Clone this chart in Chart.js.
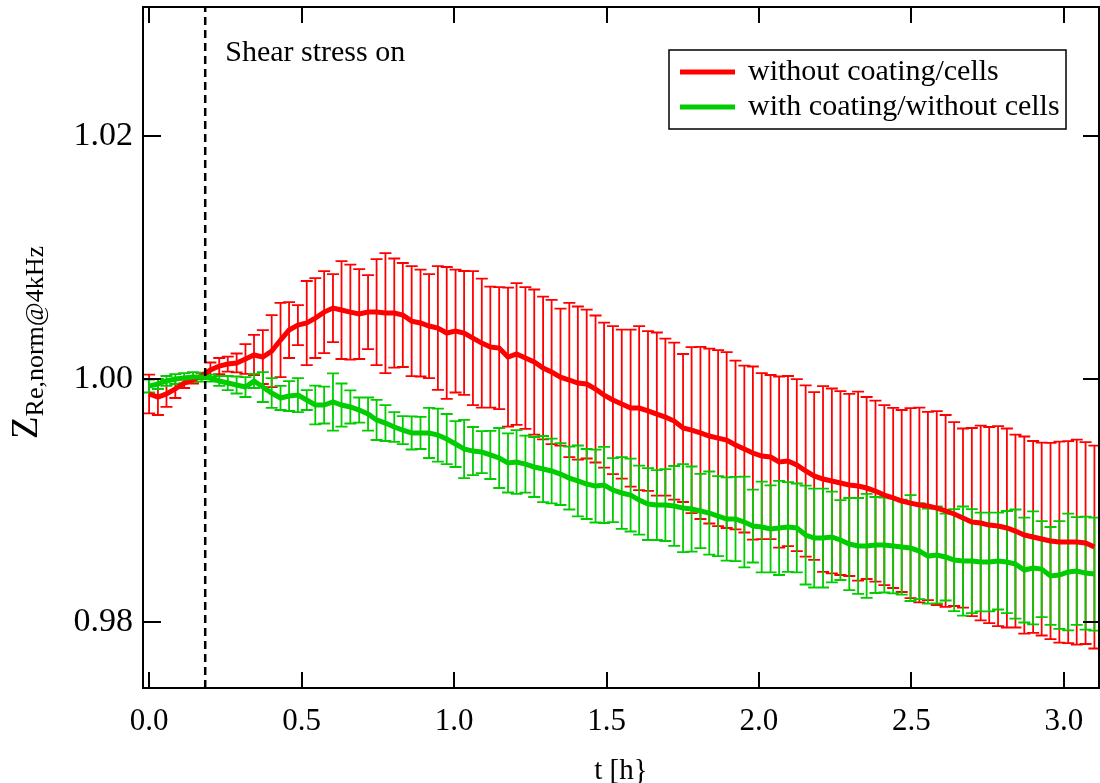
<!DOCTYPE html>
<html>
<head>
<meta charset="utf-8">
<script src="https://cdn.jsdelivr.net/npm/chart.js@4.4.0/dist/chart.umd.min.js"></script>
<style>
  html, body { margin: 0; padding: 0; background: #fff; }
  #wrap { width: 1100px; height: 783px; }
</style>
</head>
<body>
<div id="wrap"><canvas id="chart" width="1100" height="783"></canvas></div>
<script>
// time axis [h]
const tHours = [
  0.000, 0.029, 0.057, 0.086, 0.115, 0.144, 0.172, 0.201, 0.230, 0.258,
  0.287, 0.316, 0.344, 0.373, 0.402, 0.431, 0.459, 0.488, 0.517, 0.545,
  0.574, 0.603, 0.631, 0.660, 0.689, 0.718, 0.746, 0.775, 0.804, 0.832,
  0.861, 0.890, 0.918, 0.947, 0.976, 1.005, 1.033, 1.062, 1.091, 1.119,
  1.148, 1.177, 1.205, 1.234, 1.263, 1.292, 1.320, 1.349, 1.378, 1.406,
  1.435, 1.464, 1.492, 1.521, 1.550, 1.579, 1.607, 1.636, 1.665, 1.693,
  1.722, 1.751, 1.779, 1.808, 1.837, 1.866, 1.894, 1.923, 1.952, 1.980,
  2.009, 2.038, 2.066, 2.095, 2.124, 2.153, 2.181, 2.210, 2.239, 2.267,
  2.296, 2.325, 2.353, 2.382, 2.411, 2.440, 2.468, 2.497, 2.526, 2.554,
  2.583, 2.612, 2.640, 2.669, 2.698, 2.727, 2.755, 2.784, 2.813, 2.841,
  2.870, 2.899, 2.927, 2.956, 2.985, 3.014, 3.042, 3.071, 3.100
];

// without coating/cells
const redMean = [
  0.99877, 0.99852, 0.99877, 0.99918, 0.99967, 0.99992, 1.00025, 1.00074, 1.00107, 1.00123,
  1.00132, 1.00165, 1.00198, 1.00181, 1.00230, 1.00321, 1.00403, 1.00444, 1.00461, 1.00502,
  1.00551, 1.00584, 1.00568, 1.00551, 1.00535, 1.00551, 1.00551, 1.00543, 1.00543, 1.00527,
  1.00477, 1.00461, 1.00436, 1.00420, 1.00379, 1.00395, 1.00379, 1.00337, 1.00296, 1.00263,
  1.00255, 1.00181, 1.00206, 1.00173, 1.00140, 1.00091, 1.00058, 1.00016, 0.99992, 0.99967,
  0.99959, 0.99918, 0.99868, 0.99827, 0.99794, 0.99761, 0.99761, 0.99737, 0.99712, 0.99687,
  0.99654, 0.99597, 0.99580, 0.99556, 0.99531, 0.99514, 0.99498, 0.99457, 0.99424, 0.99391,
  0.99366, 0.99358, 0.99317, 0.99325, 0.99292, 0.99243, 0.99202, 0.99177, 0.99161, 0.99144,
  0.99128, 0.99119, 0.99103, 0.99078, 0.99045, 0.99021, 0.98996, 0.98979, 0.98963, 0.98955,
  0.98938, 0.98914, 0.98889, 0.98856, 0.98823, 0.98815, 0.98798, 0.98790, 0.98774, 0.98749,
  0.98716, 0.98700, 0.98683, 0.98667, 0.98658, 0.98658, 0.98658, 0.98650, 0.98617
];
const redErr = [
  0.00160, 0.00148, 0.00107, 0.00074, 0.00041, 0.00029, 0.00025, 0.00062, 0.00066, 0.00062,
  0.00078, 0.00123, 0.00165, 0.00222, 0.00296, 0.00305, 0.00230, 0.00165, 0.00346, 0.00329,
  0.00337, 0.00280, 0.00403, 0.00391, 0.00370, 0.00305, 0.00436, 0.00494, 0.00449, 0.00428,
  0.00453, 0.00440, 0.00428, 0.00510, 0.00543, 0.00506, 0.00510, 0.00551, 0.00531, 0.00498,
  0.00502, 0.00572, 0.00584, 0.00584, 0.00597, 0.00588, 0.00593, 0.00564, 0.00634, 0.00630,
  0.00613, 0.00605, 0.00597, 0.00609, 0.00613, 0.00646, 0.00675, 0.00658, 0.00671, 0.00646,
  0.00646, 0.00609, 0.00683, 0.00708, 0.00720, 0.00724, 0.00724, 0.00695, 0.00687, 0.00712,
  0.00683, 0.00675, 0.00704, 0.00700, 0.00708, 0.00704, 0.00691, 0.00765, 0.00761, 0.00757,
  0.00749, 0.00778, 0.00749, 0.00745, 0.00741, 0.00741, 0.00749, 0.00782, 0.00802, 0.00774,
  0.00798, 0.00790, 0.00757, 0.00737, 0.00774, 0.00802, 0.00807, 0.00823, 0.00819, 0.00794,
  0.00811, 0.00790, 0.00794, 0.00807, 0.00827, 0.00831, 0.00844, 0.00831, 0.00835
];

// with coating/without cells
const greenMean = [
  0.99942, 0.99959, 0.99984, 1.00000, 1.00008, 1.00016, 1.00016, 1.00008, 0.99984, 0.99967,
  0.99951, 0.99934, 0.99984, 0.99934, 0.99885, 0.99844, 0.99860, 0.99868, 0.99827, 0.99786,
  0.99786, 0.99811, 0.99786, 0.99770, 0.99745, 0.99712, 0.99663, 0.99638, 0.99605, 0.99580,
  0.99556, 0.99556, 0.99556, 0.99539, 0.99506, 0.99465, 0.99424, 0.99407, 0.99399, 0.99375,
  0.99350, 0.99309, 0.99317, 0.99300, 0.99276, 0.99259, 0.99243, 0.99218, 0.99185, 0.99161,
  0.99136, 0.99119, 0.99128, 0.99086, 0.99062, 0.99045, 0.99004, 0.98971, 0.98963, 0.98963,
  0.98955, 0.98938, 0.98930, 0.98914, 0.98897, 0.98872, 0.98848, 0.98848, 0.98823, 0.98790,
  0.98782, 0.98766, 0.98774, 0.98782, 0.98774, 0.98716, 0.98691, 0.98691, 0.98700, 0.98675,
  0.98642, 0.98626, 0.98626, 0.98634, 0.98634, 0.98626, 0.98617, 0.98609, 0.98584, 0.98543,
  0.98552, 0.98535, 0.98510, 0.98502, 0.98502, 0.98494, 0.98494, 0.98502, 0.98494, 0.98477,
  0.98428, 0.98445, 0.98436, 0.98379, 0.98387, 0.98412, 0.98420, 0.98403, 0.98395
];
const greenErr = [
  0.00053, 0.00041, 0.00041, 0.00041, 0.00041, 0.00041, 0.00037, 0.00029, 0.00041, 0.00058,
  0.00070, 0.00082, 0.00058, 0.00123, 0.00123, 0.00099, 0.00123, 0.00140, 0.00082, 0.00160,
  0.00152, 0.00235, 0.00177, 0.00136, 0.00103, 0.00136, 0.00165, 0.00148, 0.00123, 0.00115,
  0.00136, 0.00132, 0.00206, 0.00218, 0.00206, 0.00189, 0.00239, 0.00198, 0.00173, 0.00198,
  0.00247, 0.00243, 0.00263, 0.00235, 0.00247, 0.00272, 0.00267, 0.00255, 0.00259, 0.00292,
  0.00288, 0.00300, 0.00313, 0.00263, 0.00296, 0.00300, 0.00284, 0.00296, 0.00288, 0.00296,
  0.00329, 0.00362, 0.00350, 0.00305, 0.00342, 0.00329, 0.00342, 0.00346, 0.00374, 0.00300,
  0.00374, 0.00358, 0.00387, 0.00370, 0.00366, 0.00407, 0.00407, 0.00407, 0.00374, 0.00329,
  0.00379, 0.00395, 0.00428, 0.00395, 0.00391, 0.00391, 0.00391, 0.00436, 0.00395, 0.00391,
  0.00399, 0.00358, 0.00420, 0.00449, 0.00428, 0.00407, 0.00407, 0.00399, 0.00420, 0.00449,
  0.00432, 0.00465, 0.00395, 0.00403, 0.00444, 0.00481, 0.00444, 0.00465, 0.00465
];

const seriesLabels = ['without coating/cells', 'with coating/without cells'];
const xTicks = [0.0, 0.5, 1.0, 1.5, 2.0, 2.5, 3.0];
const yTicks = [0.98, 1.00, 1.02];
const shearOnTime = 0.184;
const xRange = [-0.02, 3.115];
const yRange = [0.97457, 1.03062];

const RED = 'rgb(255,0,0)';
const GREEN = 'rgb(0,204,0)';
const SERIF = '"Liberation Serif", "Times New Roman", serif';

const toPoints = (ys) => tHours.map((t, i) => ({ x: t, y: ys[i] }));

// error bars with caps, under the lines
const errorBars = {
  id: 'errorBars',
  beforeDatasetsDraw(chart) {
    const { ctx, chartArea: a, scales: { x, y } } = chart;
    ctx.save();
    ctx.beginPath();
    ctx.rect(a.left, a.top, a.right - a.left, a.bottom - a.top);
    ctx.clip();
    [[redMean, redErr, RED], [greenMean, greenErr, GREEN]].forEach(([m, e, c]) => {
      ctx.strokeStyle = c;
      ctx.lineWidth = 1.8;
      ctx.beginPath();
      tHours.forEach((t, i) => {
        const px = x.getPixelForValue(t);
        const top = y.getPixelForValue(m[i] + e[i]);
        const bot = y.getPixelForValue(m[i] - e[i]);
        ctx.moveTo(px, top); ctx.lineTo(px, bot);
        ctx.moveTo(px - 6, top); ctx.lineTo(px + 6, top);
        ctx.moveTo(px - 6, bot); ctx.lineTo(px + 6, bot);
      });
      ctx.stroke();
    });
    ctx.restore();
  }
};

// box frame, inner ticks, legend, labels
const decorations = {
  id: 'decorations',
  afterDraw(chart) {
    const { ctx, chartArea: a, scales: { x, y } } = chart;
    ctx.save();
    ctx.strokeStyle = '#000';
    ctx.lineWidth = 2;
    ctx.strokeRect(a.left, a.top, a.right - a.left, a.bottom - a.top);

    ctx.beginPath();
    x.ticks.forEach(tk => {
      const px = Math.round(x.getPixelForValue(tk.value));
      ctx.moveTo(px, a.bottom); ctx.lineTo(px, a.bottom - 16);
      ctx.moveTo(px, a.top); ctx.lineTo(px, a.top + 16);
    });
    y.ticks.forEach(tk => {
      const py = Math.round(y.getPixelForValue(tk.value));
      ctx.moveTo(a.left, py); ctx.lineTo(a.left + 18, py);
      ctx.moveTo(a.right, py); ctx.lineTo(a.right - 16, py);
    });
    ctx.stroke();

    // annotation next to the dashed line
    ctx.fillStyle = '#000';
    ctx.font = '30px ' + SERIF;
    ctx.textAlign = 'left';
    ctx.textBaseline = 'alphabetic';
    ctx.fillText('Shear stress on', x.getPixelForValue(shearOnTime) + 20, 61);

    // legend
    const lx = 669, ly = 50, lw = 397, lh = 79;
    ctx.fillStyle = '#fff';
    ctx.fillRect(lx, ly, lw, lh);
    ctx.lineWidth = 1.5;
    ctx.strokeStyle = '#000';
    ctx.strokeRect(lx, ly, lw, lh);
    [[seriesLabels[0], RED, 72], [seriesLabels[1], GREEN, 107]].forEach(([txt, c, yy]) => {
      ctx.strokeStyle = c;
      ctx.lineWidth = 5;
      ctx.beginPath();
      ctx.moveTo(680, yy); ctx.lineTo(735, yy);
      ctx.stroke();
      ctx.fillStyle = '#000';
      ctx.font = '30px ' + SERIF;
      ctx.textBaseline = 'middle';
      ctx.fillText(txt, 748, yy);
    });

    // y axis title: Z with subscript, rotated
    ctx.font = '37px ' + SERIF;
    const zW = ctx.measureText('Z').width;
    ctx.font = '26px ' + SERIF;
    const subW = ctx.measureText('Re,norm@4kHz').width;
    const startY = (a.top + a.bottom) / 2 + (zW + subW) / 2 - 5;
    ctx.translate(37, startY);
    ctx.rotate(-Math.PI / 2);
    ctx.textBaseline = 'alphabetic';
    ctx.fillStyle = '#000';
    ctx.font = '37px ' + SERIF;
    ctx.fillText('Z', 0, 0);
    ctx.font = '26px ' + SERIF;
    ctx.fillText('Re,norm@4kHz', zW, 6);
    ctx.restore();
  }
};

new Chart(document.getElementById('chart'), {
  type: 'line',
  data: {
    datasets: [
      {
        label: seriesLabels[0],
        data: toPoints(redMean),
        borderColor: RED,
        borderWidth: 5,
        pointRadius: 0,
        tension: 0,
        order: 2
      },
      {
        label: seriesLabels[1],
        data: toPoints(greenMean),
        borderColor: GREEN,
        borderWidth: 5,
        pointRadius: 0,
        tension: 0,
        order: 1
      },
      {
        label: 'shear',
        data: [{ x: shearOnTime, y: yRange[0] }, { x: shearOnTime, y: yRange[1] }],
        borderColor: '#000',
        borderWidth: 2.5,
        borderDash: [8, 5],
        pointRadius: 0,
        order: 0
      }
    ]
  },
  options: {
    responsive: false,
    animation: false,
    devicePixelRatio: 1,
    layout: { padding: { top: 7, right: 1, left: 0, bottom: 0 } },
    plugins: {
      legend: { display: false },
      tooltip: { enabled: false }
    },
    scales: {
      x: {
        type: 'linear',
        min: xRange[0],
        max: xRange[1],
        grid: { display: false, drawTicks: false },
        border: { display: false },
        afterBuildTicks: s => { s.ticks = xTicks.map(v => ({ value: v })); },
        afterFit: s => { s.height = 95; s.paddingLeft = 0; s.paddingRight = 0; },
        ticks: {
          padding: 15,
          autoSkip: false,
          maxRotation: 0,
          color: '#000',
          font: { family: SERIF, size: 31 },
          callback: v => Number(v).toFixed(1)
        },
        title: {
          display: true,
          text: 't [h}',
          color: '#000',
          padding: 0,
          font: { family: SERIF, size: 29, lineHeight: 0.8 }
        }
      },
      y: {
        type: 'linear',
        min: yRange[0],
        max: yRange[1],
        grid: { display: false, drawTicks: false },
        border: { display: false },
        afterBuildTicks: s => { s.ticks = yTicks.map(v => ({ value: v })); },
        afterFit: s => { s.width = 143; s.paddingTop = 0; s.paddingBottom = 0; },
        ticks: {
          padding: 10,
          color: '#000',
          font: { family: SERIF, size: 34 },
          callback: v => Number(v).toFixed(2)
        }
      }
    }
  },
  plugins: [errorBars, decorations]
});
</script>
</body>
</html>
